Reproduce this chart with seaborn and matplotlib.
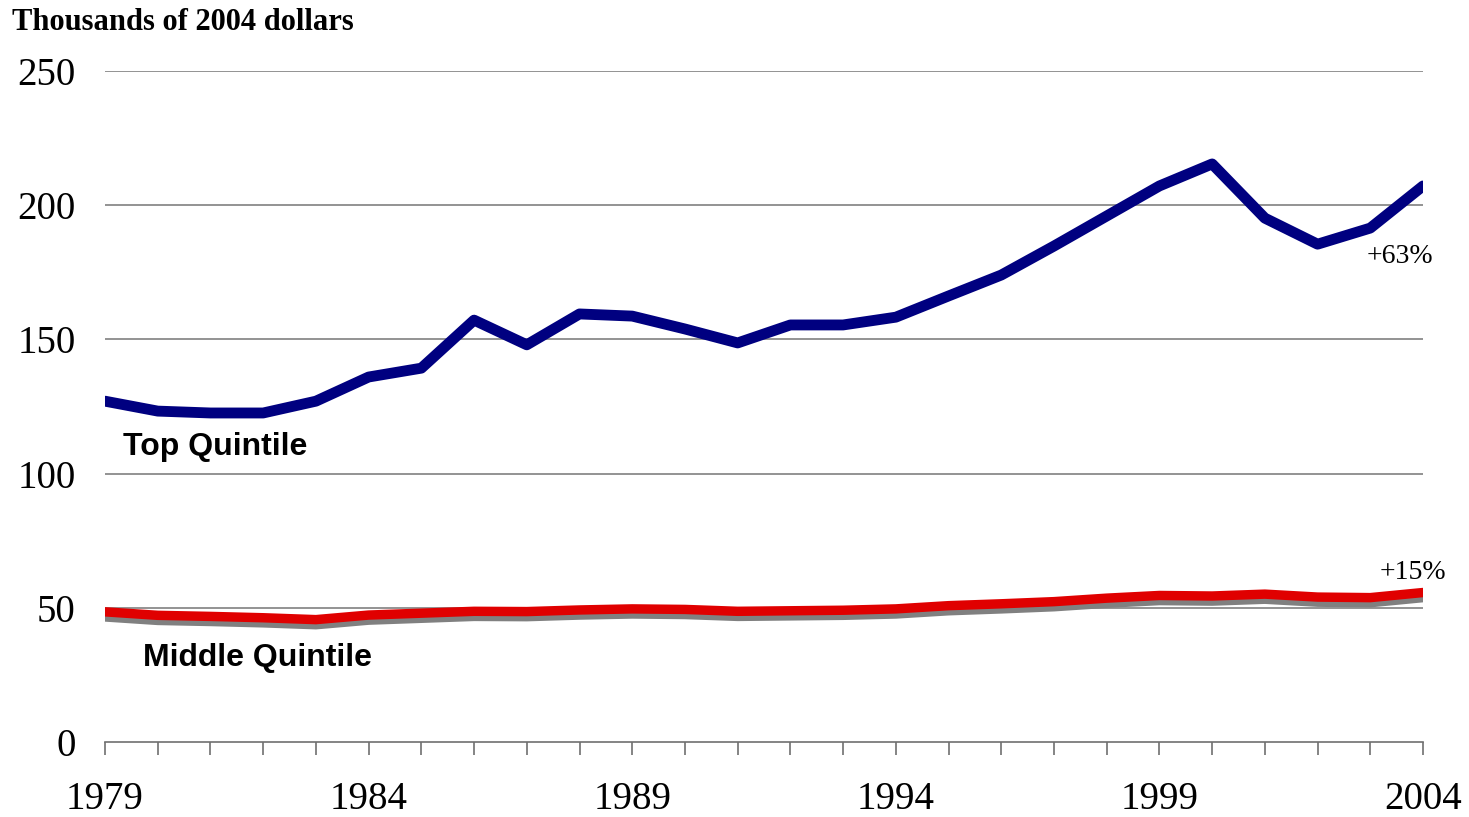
import matplotlib
matplotlib.use("Agg")
import matplotlib.pyplot as plt
import seaborn as sns
import pandas as pd

# data (thousands of 2004 dollars)
years = list(range(1979, 2005))
top_quintile = [127.0, 123.3, 122.6, 122.6, 127.0, 136.0, 139.3, 157.2, 148.0, 159.5,
                158.7, 153.9, 148.7, 155.4, 155.4, 158.3, 166.2, 174.0, 184.8, 196.0,
                207.2, 215.4, 195.2, 185.5, 191.5, 207.2]
middle_quintile = [48.5, 47.2, 46.8, 46.3, 45.6, 47.3, 48.0, 48.7, 48.6, 49.2,
                   49.6, 49.4, 48.7, 48.9, 49.1, 49.6, 50.8, 51.5, 52.3, 53.6,
                   54.6, 54.4, 55.1, 54.0, 53.8, 55.7]
middle_shadow = [46.6, 45.3, 44.9, 44.4, 43.7, 45.4, 46.1, 46.8, 46.7, 47.3,
                 47.7, 47.5, 46.8, 47.0, 47.2, 47.7, 48.9, 49.6, 50.4, 51.7,
                 52.7, 52.5, 53.2, 52.1, 51.9, 53.8]
y_ticks = [0, 50, 100, 150, 200, 250]
x_labels = [1979, 1984, 1989, 1994, 1999, 2004]

df = pd.DataFrame({"year": years, "top": top_quintile,
                   "middle": middle_quintile, "shadow": middle_shadow})

sns.set_theme(style="white")
plt.rcParams["font.family"] = ["Liberation Serif", "DejaVu Serif"]
plt.rcParams["text.color"] = "black"

fig = plt.figure(figsize=(14.69, 8.17), dpi=100)
ax = fig.add_axes([0.0715, 0.0918, 0.8972, 0.8212])

sns.lineplot(data=df, x="year", y="shadow", ax=ax, color="#808080", linewidth=6.8)
sns.lineplot(data=df, x="year", y="middle", ax=ax, color="#E00000", linewidth=6.8)
sns.lineplot(data=df, x="year", y="top", ax=ax, color="#000080", linewidth=7.8)

ax.set_xlim(1979, 2004)
ax.set_ylim(0, 250)
ax.set_yticks(y_ticks)
ax.set_yticklabels([str(v) for v in y_ticks], fontsize=28)
ax.set_xticks(years)
ax.set_xticklabels([str(y) if y in x_labels else "" for y in years], fontsize=28)
ax.set_xlabel("")
ax.set_ylabel("")

# horizontal gridlines
for v in y_ticks[1:]:
    ax.axhline(v, color="#808080", linewidth=1.2, zorder=0)

for s in ["top", "right", "left"]:
    ax.spines[s].set_visible(False)
ax.spines["bottom"].set_color("#707070")
ax.spines["bottom"].set_linewidth(1.2)
ax.tick_params(axis="x", direction="out", length=9, width=1.2, color="#707070",
               labelcolor="black", pad=19, bottom=True)
ax.tick_params(axis="y", length=0, pad=21, labelcolor="black")

fig.text(0.008, 0.973, "Thousands of 2004 dollars", fontsize=22, fontweight="bold",
         ha="left", va="center")
ax.text(1981.09, 110, "Top Quintile", family=["Liberation Sans", "DejaVu Sans"],
        fontsize=23, fontweight="bold", ha="center", va="center")
ax.text(1981.9, 31.3, "Middle Quintile", family=["Liberation Sans", "DejaVu Sans"],
        fontsize=23, fontweight="bold", ha="center", va="center")
ax.text(2003.56, 181, "+63%", fontsize=20, ha="center", va="center")
ax.text(2003.8, 63.3, "+15%", fontsize=20, ha="center", va="center")

fig.savefig("out.png", dpi=100)
